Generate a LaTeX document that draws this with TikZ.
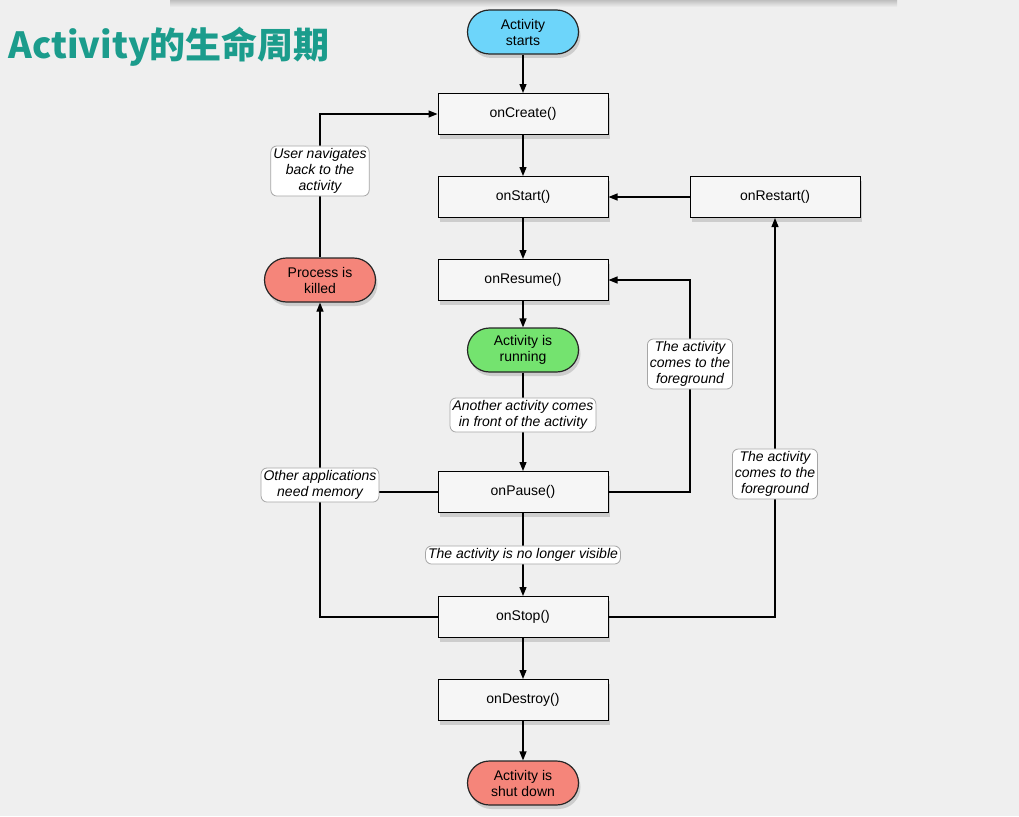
\documentclass[tikz,border=0pt]{standalone}
\usepackage{fontspec}
\setmainfont{Liberation Sans}
\newfontfamily\cjk{Noto Sans CJK SC}
\usetikzlibrary{shapes.misc,shadows,arrows.meta}
\definecolor{startblue}{HTML}{6DD5FA}
\definecolor{killred}{HTML}{F5857A}
\definecolor{rungreen}{HTML}{74E36F}
\definecolor{titleteal}{HTML}{1B9C8C}
\definecolor{bggray}{HTML}{EFEFEF}
\definecolor{boxfill}{HTML}{F6F6F6}
\tikzset{
  callback/.style={draw=black,line width=1pt,fill=boxfill,minimum width=170pt,minimum height=41pt,
    drop shadow={shadow xshift=2pt,shadow yshift=-4pt,opacity=0.3}},
  state/.style={rounded rectangle,draw=black!85,line width=1.2pt,minimum width=115pt,minimum height=44pt,
    align=center,inner sep=2pt,drop shadow={shadow xshift=2pt,shadow yshift=-4pt,opacity=0.3}},
  note/.style={draw=black!35,line width=0.8pt,fill=white,rounded corners=6pt,align=center,
    font=\itshape\fontsize{14}{16}\selectfont,inner sep=2.5pt},
  flow/.style={line width=1.2pt,-{Triangle[length=9pt,width=7pt]}},
  link/.style={line width=1.2pt}
}
\begin{document}
\begin{tikzpicture}[x=1pt,y=-1pt,font=\fontsize{14}{16}\selectfont]
\useasboundingbox[fill=bggray] (0,0) rectangle (1019,816);
\shade[top color=black!25,bottom color=bggray] (170,0) rectangle (897,7);
\node[anchor=west,text=titleteal,font=\cjk\bfseries\fontsize{36}{38}\selectfont] (title) at (5,47) {Activity的生命周期};

\node[state,fill=startblue] (starts) at (523,32) {Activity\\starts};
\node[callback] (create) at (523,114) {onCreate()};
\node[callback] (start) at (523,197) {onStart()};
\node[callback] (restart) at (775,197) {onRestart()};
\node[callback] (resume) at (523,280) {onResume()};
\node[state,fill=killred] (killed) at (320,280) {Process is\\killed};
\node[state,fill=rungreen] (running) at (523,350) {Activity is\\running};
\node[callback] (pause) at (523,492) {onPause()};
\node[callback] (stop) at (523,617) {onStop()};
\node[callback] (destroy) at (523,700) {onDestroy()};
\node[state,fill=killred] (shutdown) at (523,783) {Activity is\\shut down};

\draw[flow] (starts) -- (create);
\draw[flow] (create) -- (start);
\draw[flow] (start) -- (resume);
\draw[flow] (resume) -- (running);
\draw[flow] (running) -- (pause);
\draw[flow] (pause) -- (stop);
\draw[flow] (stop) -- (destroy);
\draw[flow] (destroy) -- (shutdown);
\draw[flow] (restart) -- (start);
\draw[flow] (pause.east) -- (690,492) |- (resume.east);
\draw[flow] (stop.east) -| (restart.south);
\draw[link] (pause.west) -- (320,492);
\draw[flow] (stop.west) -| (killed.south);
\draw[flow] (killed.north) |- (create.west);

\node[note] (backnote) at (320,171) {User navigates\\back to the\\activity};
\node[note] (frontnote) at (523,415) {Another activity comes\\in front of the activity};
\node[note] (memnote) at (320,485) {Other applications\\need memory};
\node[note] (hiddennote) at (523,555) {The activity is no longer visible};
\node[note] (fgnote) at (690,364) {The activity\\comes to the\\foreground};
\node[note] (fgnotetwo) at (775,474) {The activity\\comes to the\\foreground};
\end{tikzpicture}
\end{document}
